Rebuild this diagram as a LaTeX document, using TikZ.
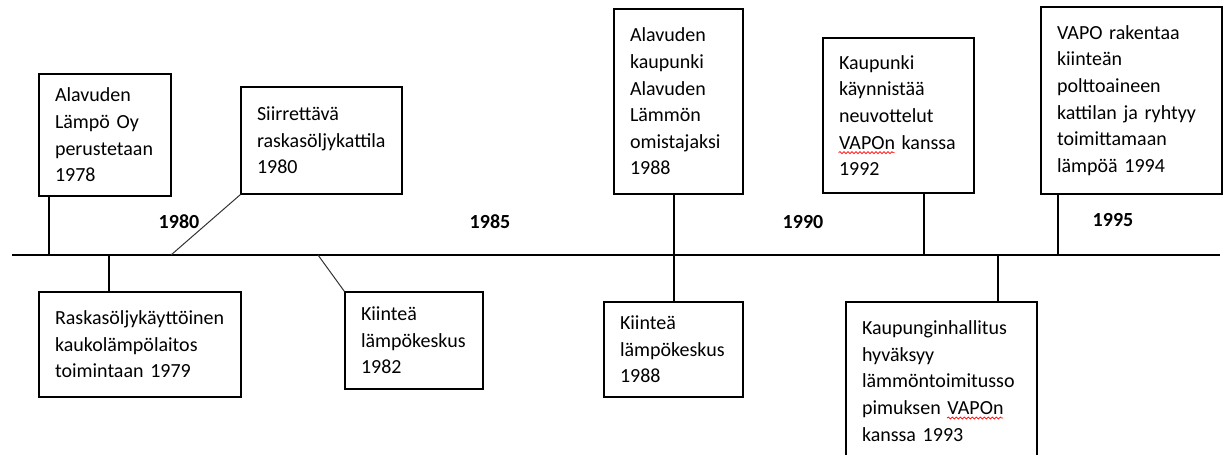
\documentclass[tikz,border=0pt]{standalone}
\usepackage{fontspec}
\setmainfont{Carlito}
\usetikzlibrary{decorations.pathmorphing}
\hyphenpenalty=10000
\exhyphenpenalty=10000

% red spell-check wave under a word
\newsavebox\wavebox
\newlength\wavewd
\newcommand\redwave[1]{\sbox\wavebox{#1}\setlength\wavewd{\wd\wavebox}%
  \usebox\wavebox
  \llap{\tikz[x=1pt, y=1pt, baseline=0pt]\draw[red, line width=0.35pt, decorate,
    decoration={snake, segment length=2pt, amplitude=0.5pt}] (0,-1.8) -- (\wavewd,-1.8);}}

\tikzset{
  evt/.style={draw, line width=0.6pt, align=left, inner xsep=8pt,
    font=\fontsize{10pt}{13.3pt}\selectfont},
  year/.style={font=\fontsize{10pt}{13.3pt}\selectfont\bfseries},
}

\begin{document}
\begin{tikzpicture}[x=0.5pt, y=-0.5pt]%
   \useasboundingbox (0,0) rectangle (1227,455);
   % the time axis
   \coordinate (start) at (12,255);
   \coordinate (end) at (1220,255);
   \draw[line width=0.6pt] (start) -- (end);
   % where the connectors meet the axis
   \coordinate (t1) at (49,255);
   \coordinate (t2) at (171,255);
   \coordinate (t3) at (109,255);
   \coordinate (t4) at (318,255);
   \coordinate (t5) at (674,255);
   \coordinate (t7) at (924,255);
   \coordinate (t8) at (998,255);
   \coordinate (t9) at (1058,255);
   % years
   \node[year] (y1980) at (179,222) {1980};
   \node[year] (y1985) at (490,222) {1985};
   \node[year] (y1990) at (803,222) {1990};
   \node[year] (y1995) at (1113,220) {1995};
   % above the axis
   \node[evt, text width=50pt, minimum height=61pt] (perustetaan) at (105,135)
      {Alavuden\\Lämpö Oy\\perustetaan\\1978};
   \node[evt, text width=64.5pt, minimum height=53.5pt] (siirrettava) at (321.5,140.5)
      {Siirrettävä\\raskasöljykattila\\1980};
   \node[evt, text width=48.5pt, minimum height=92.5pt] (omistaja) at (678.5,101.5)
      {Alavuden\\kaupunki\\Alavuden\\Lämmön\\omistajaksi\\1988};
   \node[evt, text width=59.5pt, minimum height=77.5pt] (neuvottelut) at (898.5,115.5)
      {Kaupunki\\käynnistää\\neuvottelut\\\mbox{}\redwave{VAPOn} kanssa\\1992};
   \node[evt, text width=74.5pt, minimum height=93.5pt] (vapo) at (1131.5,100.5)
      {VAPO rakentaa\\kiinteän\\polttoaineen\\kattilan ja ryhtyy\\toimittamaan\\lämpöä 1994};
   % below the axis
   \node[evt, text width=85pt, minimum height=52.5pt] (laitos) at (140,344.5)
      {Raskasöljykäyttöinen\\kaukolämpölaitos\\toimintaan 1979};
   \node[evt, text width=53pt, minimum height=48.5pt] (keskus82) at (414,340.5)
      {Kiinteä\\lämpökeskus\\1982};
   \node[evt, text width=53.5pt, minimum height=47.5pt] (keskus88) at (673.5,349.5)
      {Kiinteä\\lämpökeskus\\1988};
   \node[evt, text width=79.5pt, minimum height=79pt] (hallitus) at (941.5,381)
      {Kaupunginhallitus\\hyväksyy\\lämmöntoimitusso\\pimuksen \redwave{VAPOn}\\kanssa 1993};
   % connectors
   \draw[line width=0.6pt] (t1 |- perustetaan.south) -- (t1);
   \draw[line width=0.5pt, black!80] (siirrettava.south west) -- (t2);
   \draw[line width=0.6pt] (t3) -- (t3 |- laitos.north);
   \draw[line width=0.5pt, black!80] (t4) -- (keskus82.north west);
   \draw[line width=0.6pt] (t5 |- omistaja.south) -- (t5 |- keskus88.north);
   \draw[line width=0.6pt] (t7 |- neuvottelut.south) -- (t7);
   \draw[line width=0.6pt] (t8) -- (t8 |- hallitus.north);
   \draw[line width=0.6pt] (t9 |- vapo.south) -- (t9);
\end{tikzpicture}
\end{document}
